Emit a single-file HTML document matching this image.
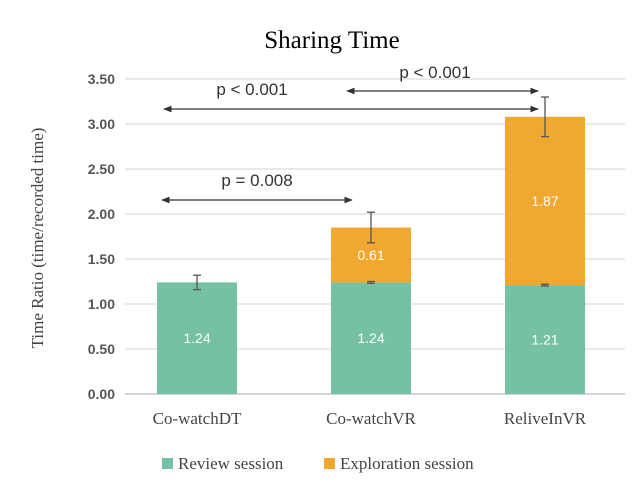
<!DOCTYPE html>
<html><head><meta charset="utf-8"><style>
body{margin:0;background:#fff;width:640px;height:496px;overflow:hidden}
svg text{font-family:"Liberation Sans",sans-serif}
.serif{font-family:"Liberation Serif",serif}
</style></head><body>
<svg id="chart" width="640" height="496">
<defs><marker id="ah" viewBox="0 0 10 10" refX="9" refY="5" markerWidth="7" markerHeight="7" orient="auto-start-reverse"><path d="M0,1 L10,5 L0,9 z" fill="#333"/></marker></defs>
<text class="serif" x="332" y="48" text-anchor="middle" font-size="25" fill="#000">Sharing Time</text>
<text class="serif" transform="translate(43,238) rotate(-90)" text-anchor="middle" font-size="17" fill="#444">Time Ratio (time/recorded time)</text>
<g id="grid"></g><g id="bars"></g>
<g stroke="#333" stroke-width="1.2">
<line x1="164" y1="109" x2="538" y2="109" marker-start="url(#ah)" marker-end="url(#ah)"/>
<line x1="347" y1="91" x2="538" y2="91" marker-start="url(#ah)" marker-end="url(#ah)"/>
<line x1="162" y1="200" x2="352" y2="200" marker-start="url(#ah)" marker-end="url(#ah)"/>
</g>
<g font-size="17" fill="#333" text-anchor="middle">
<text x="252" y="95">p &lt; 0.001</text>
<text x="435" y="78">p &lt; 0.001</text>
<text x="257" y="186">p = 0.008</text>
</g>
<g>
<rect x="162" y="458" width="11" height="11" fill="#76c0a4"/>
<text class="serif" x="178" y="469" font-size="17" fill="#444">Review session</text>
<rect x="324" y="458" width="11" height="11" fill="#f0a830"/>
<text class="serif" x="340" y="469" font-size="17" fill="#444">Exploration session</text>
</g>
</svg>
<script>
const categories=["Co-watchDT","Co-watchVR","ReliveInVR"];
const review=[1.24,1.24,1.21];
const exploration=[0,0.61,1.87];
const reviewErr=[0.08,0.01,0.01];
const totalErr=[0.08,0.17,0.22];
const ticks=[0,0.5,1,1.5,2,2.5,3,3.5];
const NS="http://www.w3.org/2000/svg";
const y0=394,pxPer=90,x0=110,step=174,bw=80;
const Y=v=>y0-v*pxPer, X=i=>x0+step*(i+0.5);
function mk(t,a,p){const e=document.createElementNS(NS,t);for(const k in a)e.setAttribute(k,a[k]);p.appendChild(e);return e;}
const grid=document.getElementById('grid'),bars=document.getElementById('bars');
ticks.forEach(t=>{
 const l=mk('line',{x1:125,x2:625,y1:Y(t),y2:Y(t),stroke:t===0?'#bbb':'#dcdcdc','stroke-width':1.2},grid);
 
 
 const tx=mk('text',{x:115,y:Y(t)+5,'text-anchor':'end','font-size':14,'font-weight':'bold',fill:'#555'},grid);
 tx.textContent=t.toFixed(2);
 
 
});
categories.forEach((c,i)=>{
 const cx=X(i);
 const r=mk('rect',{x:cx-bw/2,y:Y(review[i]),width:bw,height:review[i]*pxPer,fill:'#76c0a4'},bars);
 
 
 const rt=mk('text',{x:cx,y:Y(review[i]/2)+5,'text-anchor':'middle','font-size':14,fill:'#fff'},bars);
 rt.textContent=review[i].toFixed(2);
 
 
 const tot=review[i]+exploration[i];
 if(exploration[i]>0){
  const o=mk('rect',{x:cx-bw/2,y:Y(tot),width:bw,height:exploration[i]*pxPer,fill:'#f0a830'},bars);
  
  
  const ot=mk('text',{x:cx,y:Y(review[i]+exploration[i]/2)+5,'text-anchor':'middle','font-size':14,fill:'#fff'},bars);
  ot.textContent=exploration[i].toFixed(2);
  
  
 }
 const eb=(v,e)=>{const g=mk('g',{stroke:'#555','stroke-width':1.3},bars);
  
  
  mk('line',{x1:cx,x2:cx,y1:Y(v+e),y2:Y(v-e)},g);
  mk('line',{x1:cx-4,x2:cx+4,y1:Y(v+e),y2:Y(v+e)},g);
  mk('line',{x1:cx-4,x2:cx+4,y1:Y(v-e),y2:Y(v-e)},g);};
 eb(review[i],reviewErr[i]);
 if(exploration[i]>0) eb(tot,totalErr[i]);
 const ct=mk('text',{x:cx,y:424,'text-anchor':'middle','font-size':17,fill:'#444',class:'serif'},bars);
 ct.textContent=c;
 
 
});
</script>
</body></html>
